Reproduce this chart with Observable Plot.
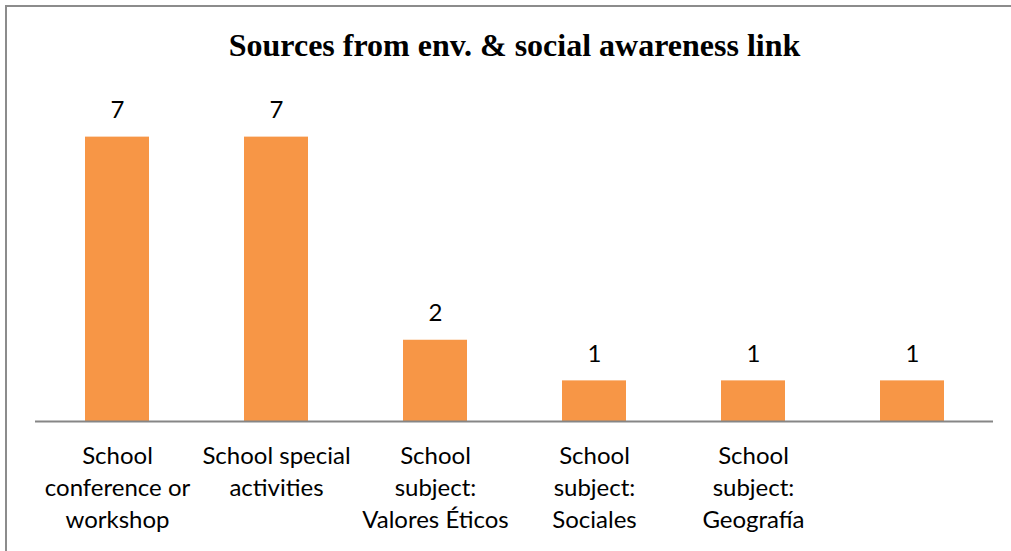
<!DOCTYPE html>
<html>
<head>
<meta charset="utf-8">
<script src="https://cdn.jsdelivr.net/npm/d3@7"></script>
<script src="https://cdn.jsdelivr.net/npm/@observablehq/plot@0.6"></script>
<style>
  html, body { margin: 0; padding: 0; background: #fff; }
  #wrap { position: relative; width: 1011px; height: 551px; overflow: hidden; }
  #frame { position: absolute; left: 5px; top: 5px; width: 1100px; height: 700px; border: 2px solid #8c8c8c; box-sizing: border-box; }
  #title { position: absolute; left: 9px; width: 1011px; top: 29px; text-align: center; line-height: 1;
           font-family: "Liberation Serif", "Times New Roman", serif; font-weight: bold; font-size: 32px; color: #000; }
  #chart { position: absolute; left: 0; top: 0; }
</style>
</head>
<body>
<div id="wrap">
  <div id="frame"></div>
  <div id="chart"></div>
  <div id="title">Sources from env. &amp; social awareness link</div>
</div>
<script>
// Sources reported for the environmental & social awareness link
const categories = ["conference", "special", "valores", "sociales", "geografia", "other"];
const labels = [
  "School\nconference or\nworkshop",
  "School special\nactivities",
  "School\nsubject:\nValores Éticos",
  "School\nsubject:\nSociales",
  "School\nsubject:\nGeografía",
  ""
];
const counts = [7, 7, 2, 1, 1, 1];

const data = categories.map((c, i) => ({category: c, label: labels[i], count: counts[i]}));
const labelOf = new Map(categories.map((c, i) => [c, labels[i]]));

const font = "Lato, 'Open Sans', sans-serif";

const chart = Plot.plot({
  width: 1011,
  height: 551,
  marginLeft: 35,
  marginRight: 18,
  marginTop: 96,
  marginBottom: 130,
  style: {fontFamily: font, background: "transparent", color: "#000"},
  x: {domain: categories, paddingInner: 0.6, paddingOuter: 0.3, align: 0.5},
  y: {domain: [0, 8], axis: null},
  marks: [
    Plot.barY(data, {x: "category", y: "count", fill: "#F79646"}),
    Plot.ruleY([0], {stroke: "#868686", strokeWidth: 2}),
    Plot.text(data, {x: "category", y: "count", text: d => String(d.count), dy: -27,
      fontSize: 24, fill: "#000"}),
    Plot.axisX({
      tickSize: 0,
      tickPadding: 0,
      tickFormat: c => labelOf.get(c),
      lineAnchor: "top",
      lineHeight: 1.333,
      dy: 20,
      fontSize: 24,
      fill: "#000",
      label: null
    })
  ]
});
document.getElementById("chart").appendChild(chart);
</script>
</body>
</html>
